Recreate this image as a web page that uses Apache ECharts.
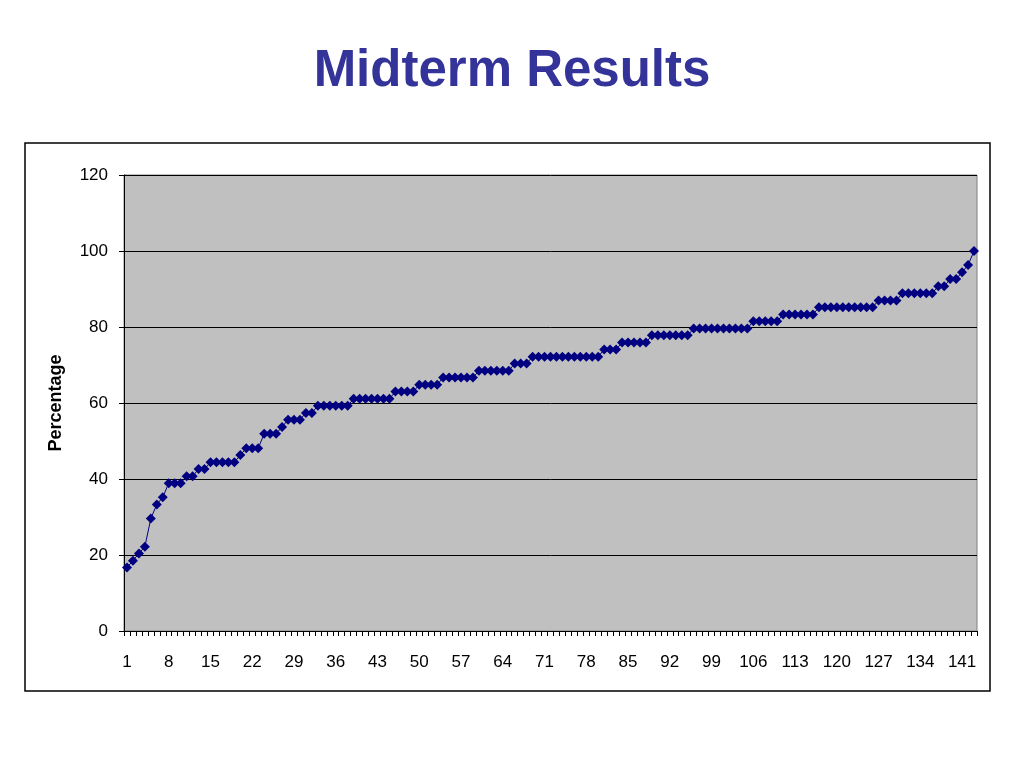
<!DOCTYPE html>
<html>
<head>
<meta charset="utf-8">
<script src="https://cdn.jsdelivr.net/npm/echarts@6/dist/echarts.min.js"></script>
<style>
html,body{margin:0;padding:0;background:#fff;}
#chart{width:1024px;height:768px;}
</style>
</head>
<body>
<div id="chart"></div>
<script>
var chartTitle = 'Midterm Results';
var yAxisName = 'Percentage';
var yTicks = [0, 20, 40, 60, 80, 100, 120];
var scores = [
  16.7, 18.5, 20.4, 22.2, 29.6, 33.3, 35.2,
  38.9, 38.9, 38.9,
  40.7, 40.7,
  42.6, 42.6,
  44.4, 44.4, 44.4, 44.4, 44.4,
  46.3,
  48.1, 48.1, 48.1,
  51.9, 51.9, 51.9,
  53.7,
  55.6, 55.6, 55.6,
  57.4, 57.4,
  59.3, 59.3, 59.3, 59.3, 59.3, 59.3,
  61.1, 61.1, 61.1, 61.1, 61.1, 61.1, 61.1,
  63.0, 63.0, 63.0, 63.0,
  64.8, 64.8, 64.8, 64.8,
  66.7, 66.7, 66.7, 66.7, 66.7, 66.7,
  68.5, 68.5, 68.5, 68.5, 68.5, 68.5,
  70.4, 70.4, 70.4,
  72.2, 72.2, 72.2, 72.2, 72.2, 72.2, 72.2, 72.2, 72.2, 72.2, 72.2, 72.2,
  74.1, 74.1, 74.1,
  75.9, 75.9, 75.9, 75.9, 75.9,
  77.8, 77.8, 77.8, 77.8, 77.8, 77.8, 77.8,
  79.6, 79.6, 79.6, 79.6, 79.6, 79.6, 79.6, 79.6, 79.6, 79.6,
  81.5, 81.5, 81.5, 81.5, 81.5,
  83.3, 83.3, 83.3, 83.3, 83.3, 83.3,
  85.2, 85.2, 85.2, 85.2, 85.2, 85.2, 85.2, 85.2, 85.2, 85.2,
  87.0, 87.0, 87.0, 87.0,
  88.9, 88.9, 88.9, 88.9, 88.9, 88.9,
  90.7, 90.7,
  92.6, 92.6,
  94.4, 96.3, 100
];
var categories = scores.map(function (v, i) { return String(i + 1); });

var chart = echarts.init(document.getElementById('chart'), null, {renderer: 'canvas'});
var font = '"Liberation Sans", Arial, sans-serif';
chart.setOption({
  animation: false,
  backgroundColor: '#ffffff',
  title: {
    text: chartTitle,
    left: 'center',
    top: 41,
    textStyle: {fontFamily: font, fontSize: 51, fontWeight: 'bold', color: '#333399'}
  },
  graphic: [{
    type: 'rect',
    shape: {x: 25, y: 143, width: 965, height: 548},
    style: {fill: 'none', stroke: '#000', lineWidth: 1.5},
    silent: true,
    z: -1
  }],
  grid: {
    left: 124, right: 47, top: 175, bottom: 137,
    show: true, backgroundColor: '#c0c0c0', borderWidth: 1, borderColor: '#808080'
  },
  xAxis: {
    type: 'category',
    data: categories,
    boundaryGap: true,
    axisLine: {show: true, lineStyle: {color: '#000', width: 1}},
    axisTick: {show: true, interval: 0, length: 5, lineStyle: {color: '#000'}},
    axisLabel: {interval: 6, margin: 23, fontFamily: font, fontSize: 17, color: '#000'},
    splitLine: {show: false}
  },
  yAxis: {
    type: 'value',
    min: yTicks[0], max: yTicks[yTicks.length - 1], interval: 20,
    name: yAxisName,
    nameLocation: 'middle',
    nameGap: 59,
    nameTextStyle: {fontFamily: font, fontSize: 18, fontWeight: 'bold', color: '#000'},
    axisLine: {show: true, lineStyle: {color: '#000', width: 1}},
    axisTick: {show: true, length: 5, lineStyle: {color: '#000'}},
    axisLabel: {margin: 16, fontFamily: font, fontSize: 17, color: '#000'},
    splitLine: {show: true, lineStyle: {color: '#000', width: 1}}
  },
  series: [{
    type: 'line',
    data: scores,
    symbol: 'diamond',
    symbolSize: 10,
    showAllSymbol: true,
    lineStyle: {color: '#000080', width: 1},
    itemStyle: {color: '#000080'}
  }]
});
</script>
</body>
</html>
